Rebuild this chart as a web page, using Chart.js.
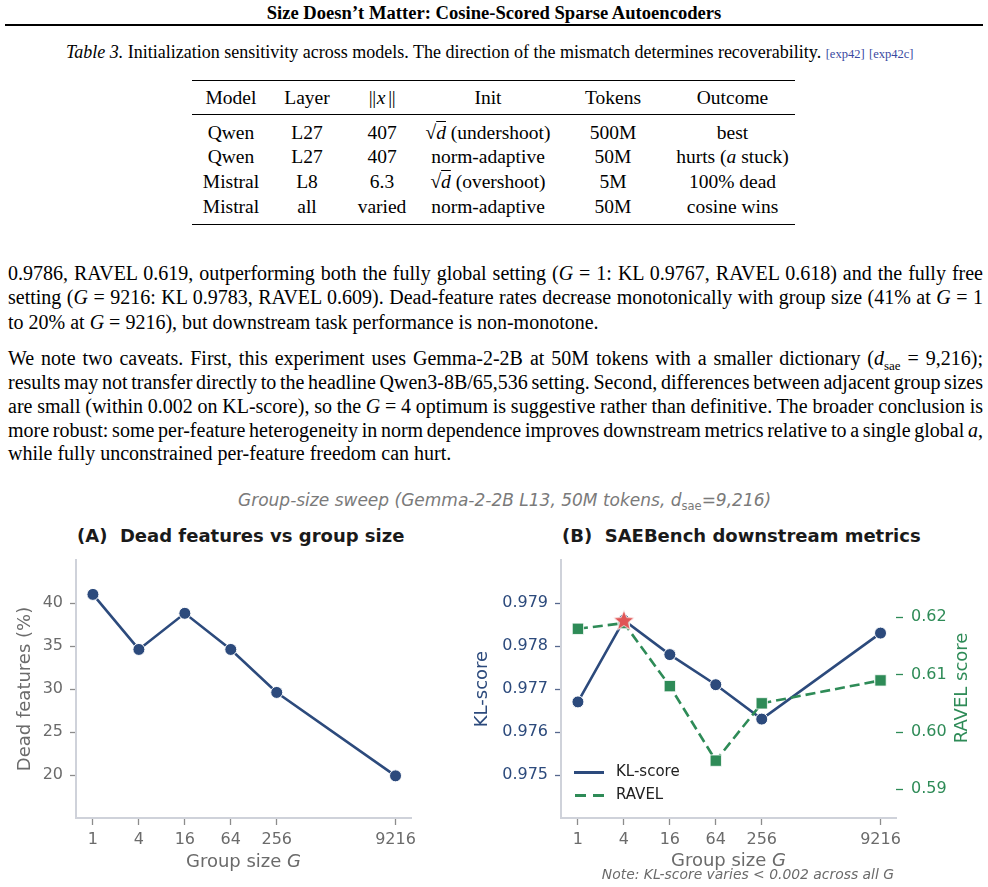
<!DOCTYPE html>
<html>
<head>
<meta charset="utf-8">
<script src="https://cdn.jsdelivr.net/npm/chart.js@4.4.1/dist/chart.umd.min.js"></script>
<style>
  body { margin: 0; background: #fff; }
  #page { position: relative; width: 988px; height: 887px; overflow: hidden; font-family: "Liberation Serif", "Times New Roman", serif; color: #000; }
  .abs { position: absolute; }
  .ln { position: absolute; left: 8px; white-space: nowrap; font-size: 20px; line-height: 24px; }
  .math { font-style: italic; }
  .cite { font-size: 12.5px; color: #3949a0; }
  table.t { position: absolute; left: 192px; top: 80px; width: 603px; border-collapse: collapse; font-size: 19.5px; table-layout: fixed; }
  table.t td, table.t th { text-align: center; font-weight: normal; padding: 0; line-height: 24px; height: 24px; }
  table.t thead th { height: 33px; border-bottom: 1px solid #000; }
  .sans { font-family: "DejaVu Sans", sans-serif; }
  .bar { letter-spacing: -0.5px; }
  canvas { position: absolute; }
</style>
</head>
<body>
<div id="page">
  <div class="abs" style="left:0;width:988px;top:2px;text-align:center;font-weight:bold;font-size:18.6px;">Size Doesn’t Matter: Cosine-Scored Sparse Autoencoders</div>
  <div class="abs" style="left:5px;width:978px;top:24px;height:2px;background:#000;"></div>

  <div class="abs" style="left:66px;top:42px;font-size:18px;white-space:nowrap;"><i>Table 3.</i> Initialization sensitivity across models. The direction of the mismatch determines recoverability. <span class="cite">[exp42]</span> <span class="cite">[exp42c]</span></div>

  <table class="t" style="border-top:1.5px solid #000;border-bottom:1.5px solid #000;">
    <colgroup><col style="width:78px"><col style="width:74px"><col style="width:76px"><col style="width:136px"><col style="width:114px"><col style="width:125px"></colgroup>
    <thead><tr><th>Model</th><th>Layer</th><th><span class="bar" style="margin-right:1px">||</span><i>x</i><span class="bar" style="margin-left:3px">||</span></th><th>Init</th><th>Tokens</th><th>Outcome</th></tr></thead>
    <tbody>
      <tr><td style="padding-top:6px">Qwen</td><td style="padding-top:6px">L27</td><td style="padding-top:6px">407</td><td style="padding-top:6px">√<span style="text-decoration:overline"><i>d</i></span> (undershoot)</td><td style="padding-top:6px">500M</td><td style="padding-top:6px">best</td></tr>
      <tr><td>Qwen</td><td>L27</td><td>407</td><td>norm-adaptive</td><td>50M</td><td>hurts (<i>a</i> stuck)</td></tr>
      <tr><td style="height:25.5px">Mistral</td><td>L8</td><td>6.3</td><td>√<span style="text-decoration:overline"><i>d</i></span> (overshoot)</td><td>5M</td><td>100% dead</td></tr>
      <tr><td style="padding-bottom:5px">Mistral</td><td style="padding-bottom:5px">all</td><td style="padding-bottom:5px">varied</td><td style="padding-bottom:5px">norm-adaptive</td><td style="padding-bottom:5px">50M</td><td style="padding-bottom:5px">cosine wins</td></tr>
    </tbody>
  </table>

  <div class="ln just" style="top:261px">0.9786, RAVEL 0.619, outperforming both the fully global setting (<span class="math">G</span> = 1: KL 0.9767, RAVEL 0.618) and the fully free</div>
  <div class="ln just" style="top:285px">setting (<span class="math">G</span> = 9216: KL 0.9783, RAVEL 0.609). Dead-feature rates decrease monotonically with group size (41% at <span class="math">G</span> = 1</div>
  <div class="ln" style="top:310px">to 20% at <span class="math">G</span> = 9216), but downstream task performance is non-monotone.</div>

  <div class="ln just" style="top:346px">We note two caveats. First, this experiment uses Gemma-2-2B at 50M tokens with a smaller dictionary (<span class="math">d</span><sub style="font-size:13px">sae</sub> = 9,216);</div>
  <div class="ln just" style="top:370px">results may not transfer directly to the headline Qwen3-8B/65,536 setting. Second, differences between adjacent group sizes</div>
  <div class="ln just" style="top:394px">are small (within 0.002 on KL-score), so the <span class="math">G</span> = 4 optimum is suggestive rather than definitive. The broader conclusion is</div>
  <div class="ln just" style="top:418px">more robust: some per-feature heterogeneity in norm dependence improves downstream metrics relative to a single global <span class="math">a</span>,</div>
  <div class="ln" style="top:441px">while fully unconstrained per-feature freedom can hurt.</div>

  <!-- figure -->
  <div class="abs sans" style="left:238px;top:490px;font-size:17px;font-style:italic;color:#7a7a7a;white-space:nowrap;">Group-size sweep (Gemma-2-2B L13, 50M tokens, d<sub style="font-size:11.5px;font-style:normal">sae</sub>=9,216)</div>
  <div class="abs sans" style="left:77px;top:525px;font-size:18px;font-weight:bold;color:#1a1a1a;white-space:pre;">(A)  Dead features vs group size</div>
  <div class="abs sans" style="left:562px;top:525px;font-size:18px;font-weight:bold;color:#1a1a1a;white-space:pre;">(B)  SAEBench downstream metrics</div>

  <canvas id="chartA" width="494" height="407" style="left:0;top:480px;"></canvas>
  <canvas id="chartB" width="518" height="407" style="left:470px;top:480px;"></canvas>

  <div class="abs sans" style="left:76px;width:335px;top:850px;text-align:center;font-size:18px;color:#6b6b6b;">Group size <i>G</i></div>
  <div class="abs sans" style="left:561px;width:335px;top:849px;text-align:center;font-size:18px;color:#6b6b6b;">Group size <i>G</i></div>
  <div class="abs sans" style="left:560px;width:334px;top:866px;text-align:right;font-size:13.9px;font-style:italic;color:#6b6b6b;white-space:nowrap;">Note: KL-score varies &lt; 0.002 across all G</div>
  <div class="abs sans" style="left:903px;top:678px;width:116px;text-align:center;font-size:18px;color:#2e8b57;transform:rotate(-90deg);transform-origin:50% 50%;line-height:20px;">RAVEL score</div>

  <!-- legend for panel B -->
  <div class="abs" style="left:574px;top:771px;width:30px;height:2.6px;background:#2c4a7c;"></div>
  <div class="abs sans" style="left:616px;top:762px;font-size:15px;color:#222;">KL-score</div>
  <div class="abs" style="left:575px;top:794px;width:11px;height:2.6px;background:#2e8b57;"></div>
  <div class="abs" style="left:593px;top:794px;width:11px;height:2.6px;background:#2e8b57;"></div>
  <div class="abs sans" style="left:616px;top:785px;font-size:15px;color:#222;">RAVEL</div>
</div>

<script>
// data
const groupSizes = [1, 4, 16, 64, 256, 9216];
const deadPct = [41.0, 34.6, 38.8, 34.6, 29.6, 19.9];
const klScore = [0.9767, 0.9786, 0.9778, 0.9771, 0.9763, 0.9783];
const ravelScore = [0.618, 0.619, 0.608, 0.595, 0.605, 0.609];
const bestIndex = 1; // G = 4
const deadTicks = [20, 25, 30, 35, 40];
const klTicks = [0.975, 0.976, 0.977, 0.978, 0.979];
const ravelTicks = [0.59, 0.60, 0.61, 0.62];

const navy = '#2c4a7c';
const green = '#2e8b57';
const starRed = '#e05555';
const spine = '#cfd2da';
const grayText = '#6b6b6b';
const sansFont = 'DejaVu Sans';

// justify body lines to the column width
document.querySelectorAll('.ln.just').forEach(function (el) {
  var target = 975;
  var spaces = (el.textContent.match(/ /g) || []).length;
  var w = el.getBoundingClientRect().width;
  if (spaces) el.style.wordSpacing = ((target - w) / spaces) + 'px';
});

function pts(ys) {
  return groupSizes.map(function (g, i) { return { x: g, y: ys[i] }; });
}

function starImage() {
  var c = document.createElement('canvas');
  c.width = 24; c.height = 24;
  var g = c.getContext('2d');
  g.beginPath();
  for (var i = 0; i < 10; i++) {
    var r = i % 2 === 0 ? 11 : 4.6;
    var a = -Math.PI / 2 + i * Math.PI / 5;
    g.lineTo(12 + r * Math.cos(a), 12.8 + r * Math.sin(a));
  }
  g.closePath();
  g.fillStyle = starRed;
  g.fill();
  g.lineWidth = 0.8;
  g.strokeStyle = '#ffffff';
  g.stroke();
  return c;
}

function xScale() {
  return {
    type: 'logarithmic',
    min: 0.63,
    max: 14700,
    afterBuildTicks: function (s) { s.ticks = groupSizes.map(function (v) { return { value: v }; }); },
    ticks: { autoSkip: false, maxRotation: 0, color: grayText, padding: 5, font: { family: sansFont, size: 16 },
             callback: function (v) { return String(v); } },
    grid: { drawOnChartArea: false, drawTicks: true, tickLength: 7, tickColor: '#8c8c8c', tickWidth: 1.3 },
    border: { color: spine, width: 2 },
    afterFit: function (s) { s.height = 69; }
  };
}

var commonOpts = {
  responsive: false,
  animation: false,
  events: [],
  plugins: { legend: { display: false }, tooltip: { enabled: false } }
};

new Chart(document.getElementById('chartA').getContext('2d'), {
  type: 'line',
  data: {
    datasets: [{
      data: pts(deadPct),
      borderColor: navy,
      borderWidth: 2.6,
      pointRadius: 6,
      pointBackgroundColor: navy,
      pointBorderColor: '#ffffff',
      pointBorderWidth: 1
    }]
  },
  options: Object.assign({}, commonOpts, {
    layout: { padding: { top: 80, right: 83, left: 0, bottom: 0 } },
    scales: {
      x: xScale(),
      y: {
        min: 15, max: 45,
        afterBuildTicks: function (s) { s.ticks = deadTicks.map(function (v) { return { value: v }; }); },
        ticks: { color: grayText, padding: 7, font: { family: sansFont, size: 16 } },
        grid: { drawOnChartArea: false, drawTicks: true, tickLength: 6, tickColor: '#8c8c8c', tickWidth: 1.3 },
        border: { color: spine, width: 2 },
        title: { display: true, text: 'Dead features (%)', color: grayText, font: { family: sansFont, size: 18 }, padding: { top: 15, bottom: 0 } },
        afterFit: function (s) { s.width = 76; }
      }
    }
  })
});

new Chart(document.getElementById('chartB').getContext('2d'), {
  type: 'line',
  data: {
    datasets: [
      {
        data: [{ x: groupSizes[bestIndex], y: klScore[bestIndex] }],
        yAxisID: 'y',
        order: 0,
        showLine: false,
        pointStyle: starImage(),
        pointRadius: 11
      },
      {
        data: pts(ravelScore),
        yAxisID: 'y1',
        order: 1,
        borderColor: green,
        borderWidth: 2.6,
        borderDash: [10, 5],
        pointStyle: 'rect',
        pointRadius: 8,
        pointBackgroundColor: green,
        pointBorderColor: '#ffffff',
        pointBorderWidth: 0.8
      },
      {
        data: pts(klScore),
        yAxisID: 'y',
        order: 2,
        borderColor: navy,
        borderWidth: 2.6,
        pointRadius: 6,
        pointBackgroundColor: navy,
        pointBorderColor: '#ffffff',
        pointBorderWidth: 1
      }
    ]
  },
  options: Object.assign({}, commonOpts, {
    layout: { padding: { top: 80, right: 0, left: 0, bottom: 0 } },
    scales: {
      x: xScale(),
      y: {
        position: 'left',
        min: 0.974, max: 0.980,
        afterBuildTicks: function (s) { s.ticks = klTicks.map(function (v) { return { value: v }; }); },
        ticks: { color: navy, padding: 7, font: { family: sansFont, size: 16 },
                 callback: function (v) { return v.toFixed(3); } },
        grid: { drawOnChartArea: false, drawTicks: true, tickLength: 6, tickColor: '#56688e', tickWidth: 1.3 },
        border: { color: spine, width: 2 },
        title: { display: true, text: 'KL-score', color: navy, font: { family: sansFont, size: 18 }, padding: { top: 2, bottom: 0 } },
        afterFit: function (s) { s.width = 91; }
      },
      y1: {
        position: 'right',
        min: 0.585, max: 0.630,
        afterBuildTicks: function (s) { s.ticks = ravelTicks.map(function (v) { return { value: v }; }); },
        ticks: { color: green, padding: 8, font: { family: sansFont, size: 16 },
                 callback: function (v) { return v.toFixed(2); } },
        grid: { drawOnChartArea: false, drawTicks: true, tickLength: 7, tickColor: green, tickWidth: 1.3 },
        border: { display: false },
        afterFit: function (s) { s.width = 92; }
      }
    }
  })
});
</script>
</body>
</html>
